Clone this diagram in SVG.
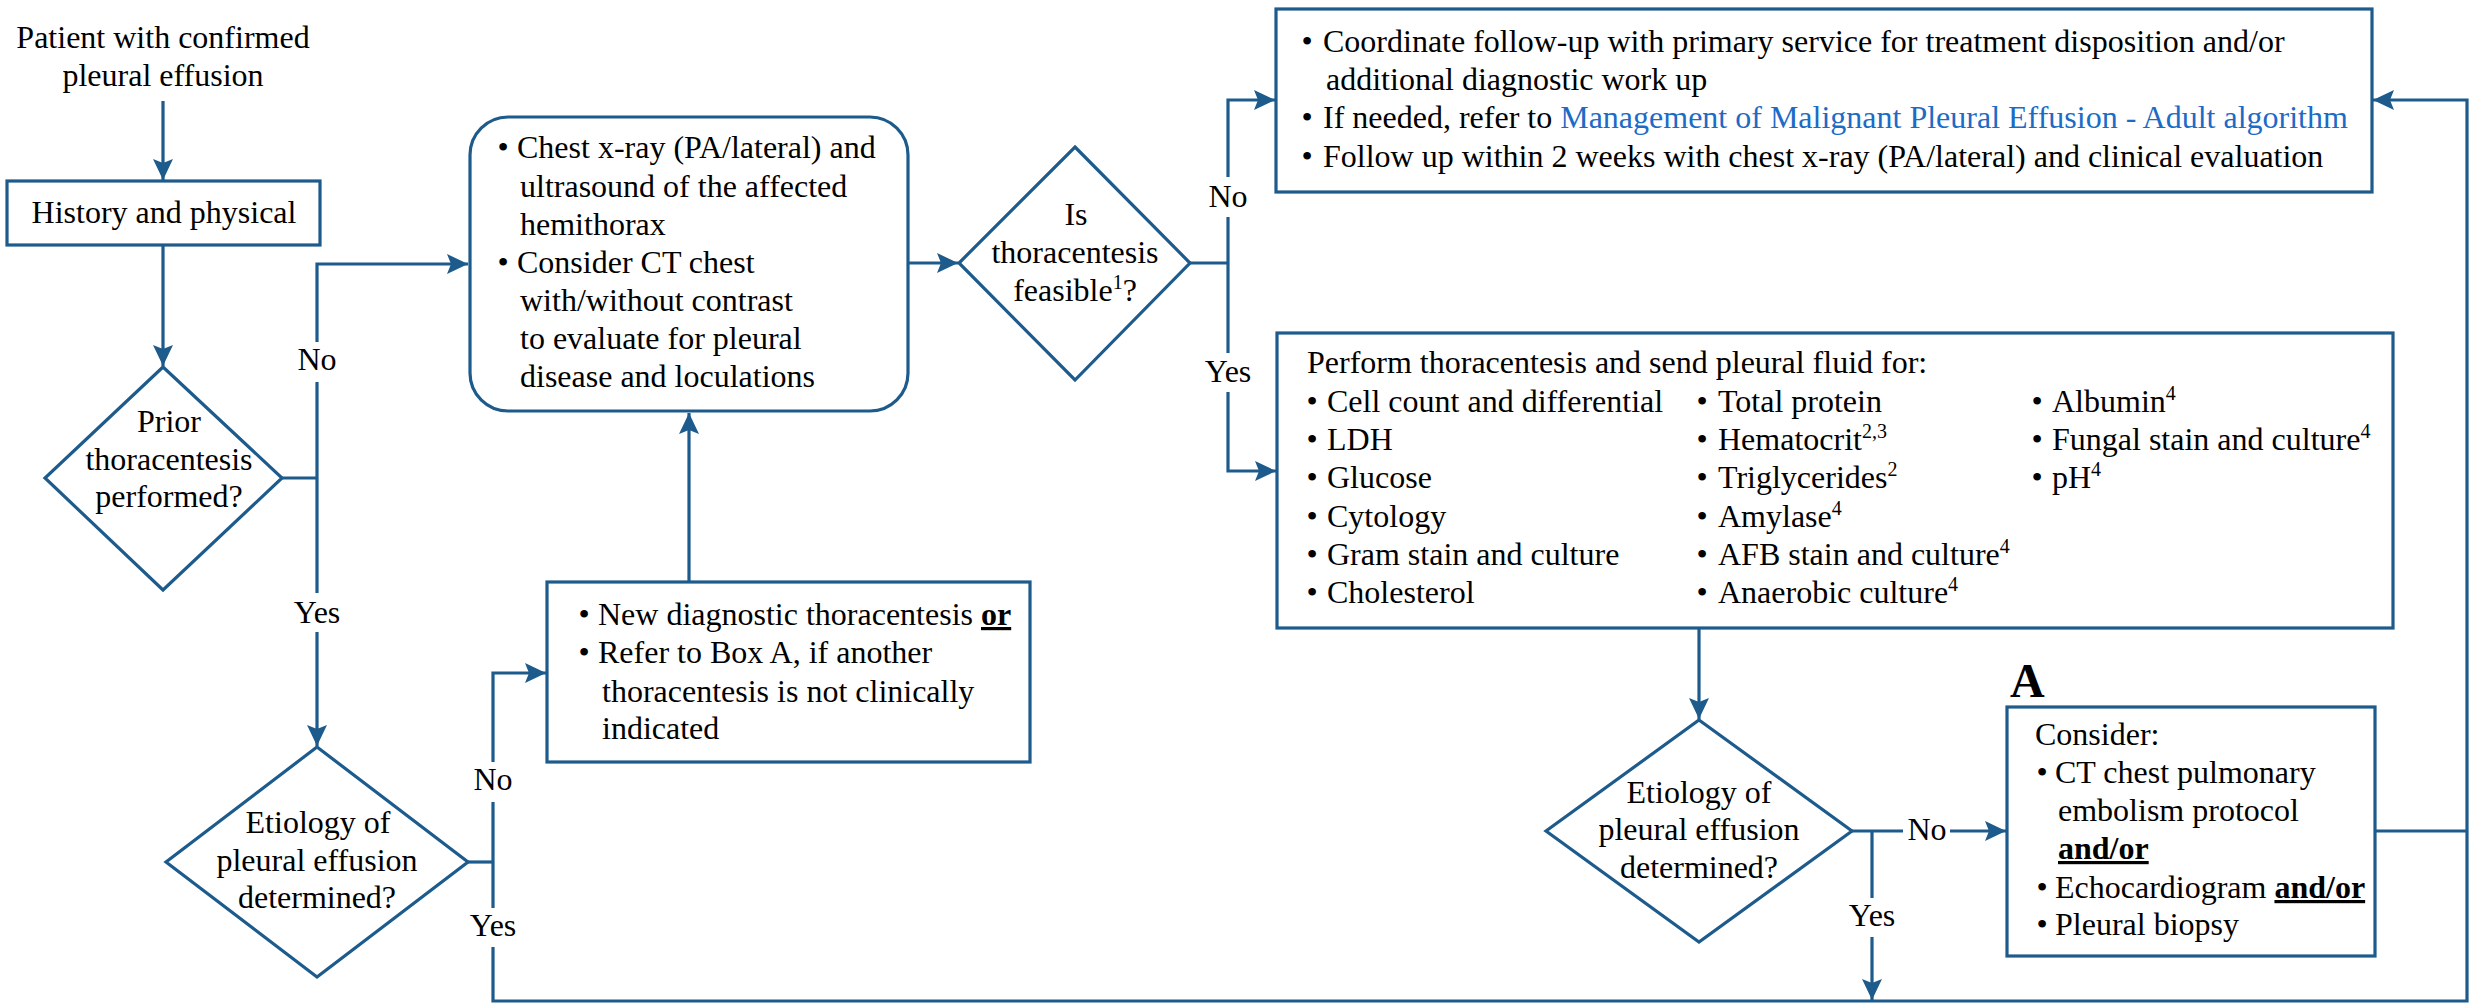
<svg xmlns="http://www.w3.org/2000/svg" width="2475" height="1003" viewBox="0 0 2475 1003">
<style>
text{font-family:"Liberation Serif","Times New Roman",serif;font-size:32px;fill:#000}
.c{text-anchor:middle}
.b{text-anchor:middle}
.shape{fill:#fff;stroke:#1d5b8d;stroke-width:3.2}
.ln{fill:none;stroke:#1d5b8d;stroke-width:3.2}
.arr{marker-end:url(#ah)}
.link{fill:#1c6bc6}
.sup{font-size:20px}
.bu{font-weight:bold;text-decoration:underline}
</style>
<defs>
<marker id="ah" markerUnits="userSpaceOnUse" markerWidth="22" markerHeight="22" viewBox="0 0 22 22" refX="21" refY="11" orient="auto">
<path d="M0,1 L21,11 L0,21 L4,11 z" fill="#1d5b8d"/>
</marker>
</defs>
<rect width="2475" height="1003" fill="#fff"/>

<g id="connectors">
<path class="ln arr" d="M163,101 V180"/>
<path class="ln arr" d="M163,245 V366"/>
<path class="ln" d="M282,478 H317"/>
<path class="ln arr" d="M317,342 V264 H468"/>
<path class="ln" d="M317,382 V593"/>
<path class="ln arr" d="M317,632 V746"/>
<path class="ln" d="M468,862 H493"/>
<path class="ln arr" d="M493,762 V673 H546"/>
<path class="ln" d="M493,802 V908"/>
<path class="ln arr" d="M493,947 V1001 H2467 V100 H2373"/>
<path class="ln arr" d="M689,582 V413"/>
<path class="ln arr" d="M908,263 H958"/>
<path class="ln" d="M1190,263 H1228"/>
<path class="ln arr" d="M1228,177 V100 H1275"/>
<path class="ln" d="M1228,217 V353"/>
<path class="ln arr" d="M1228,392 V471 H1276"/>
<path class="ln arr" d="M1699,628 V719"/>
<path class="ln" d="M1852,831 H1903"/>
<path class="ln arr" d="M1950,831 H2006"/>
<path class="ln" d="M1872,831 V898"/>
<path class="ln arr" d="M1872,937 V1000"/>
<path class="ln" d="M2375,831 H2467"/>
<text class="c" x="317" y="370">No</text>
<text class="c" x="317" y="623">Yes</text>
<text class="c" x="1228" y="207">No</text>
<text class="c" x="1228" y="382">Yes</text>
<text class="c" x="493" y="790">No</text>
<text class="c" x="493" y="936">Yes</text>
<text class="c" x="1927" y="840">No</text>
<text class="c" x="1872" y="926">Yes</text>
</g>

<g id="start">
<text class="c" x="163" y="48">Patient with confirmed</text>
<text class="c" x="163" y="86">pleural effusion</text>
</g>

<g id="history">
<rect class="shape" x="7" y="181" width="313" height="64"/>
<text class="c" x="164" y="223">History and physical</text>
</g>

<g id="prior-thoracentesis">
<path class="shape" d="M163,367 L282,478 L163,590 L45,478 Z"/>
<text class="c" x="169" y="432">Prior</text>
<text class="c" x="169" y="470">thoracentesis</text>
<text class="c" x="169" y="507">performed?</text>
</g>

<g id="etiology-left">
<path class="shape" d="M317,747 L468,862 L317,977 L166,862 Z"/>
<text class="c" x="318" y="833">Etiology of</text>
<text class="c" x="317" y="871">pleural effusion</text>
<text class="c" x="317" y="908">determined?</text>
</g>

<g id="imaging">
<rect class="shape" x="470" y="117" width="438" height="294" rx="38" ry="38"/>
<text class="b" x="503" y="158">•</text>
<text x="517" y="158">Chest x-ray (PA/lateral) and</text>
<text x="520" y="197">ultrasound of the affected</text>
<text x="520" y="235">hemithorax</text>
<text class="b" x="503" y="273">•</text>
<text x="517" y="273">Consider CT chest</text>
<text x="520" y="311">with/without contrast</text>
<text x="520" y="349">to evaluate for pleural</text>
<text x="520" y="387">disease and loculations</text>
</g>

<g id="new-thoracentesis">
<rect class="shape" x="547" y="582" width="483" height="180"/>
<text class="b" x="584" y="625">•</text>
<text x="598" y="625">New diagnostic thoracentesis <tspan class="bu">or</tspan></text>
<text class="b" x="584" y="663">•</text>
<text x="598" y="663">Refer to Box A, if another</text>
<text x="602" y="702">thoracentesis is not clinically</text>
<text x="602" y="739">indicated</text>
</g>

<g id="feasible">
<path class="shape" d="M1075,147 L1190,263 L1075,380 L959,263 Z"/>
<text class="c" x="1076" y="225">Is</text>
<text class="c" x="1075" y="263">thoracentesis</text>
<text class="c" x="1075" y="301">feasible<tspan class="sup" dy="-12">1</tspan><tspan dy="12">?</tspan></text>
</g>

<g id="follow-up">
<rect class="shape" x="1276" y="9" width="1096" height="183"/>
<text class="b" x="1307" y="52">•</text>
<text x="1323" y="52">Coordinate follow-up with primary service for treatment disposition and/or</text>
<text x="1326" y="90">additional diagnostic work up</text>
<text class="b" x="1307" y="128">•</text>
<text x="1323" y="128">If needed, refer to <tspan class="link">Management of Malignant Pleural Effusion - Adult algorithm</tspan></text>
<text class="b" x="1307" y="167">•</text>
<text x="1323" y="167">Follow up within 2 weeks with chest x-ray (PA/lateral) and clinical evaluation</text>
</g>

<g id="perform-thoracentesis">
<rect class="shape" x="1277" y="333" width="1116" height="295"/>
<text x="1307" y="373">Perform thoracentesis and send pleural fluid for:</text>
<g>
<text class="b" x="1312" y="412">•</text><text x="1327" y="412">Cell count and differential</text>
<text class="b" x="1312" y="450">•</text><text x="1327" y="450">LDH</text>
<text class="b" x="1312" y="488">•</text><text x="1327" y="488">Glucose</text>
<text class="b" x="1312" y="527">•</text><text x="1327" y="527">Cytology</text>
<text class="b" x="1312" y="565">•</text><text x="1327" y="565">Gram stain and culture</text>
<text class="b" x="1312" y="603">•</text><text x="1327" y="603">Cholesterol</text>
</g>
<g>
<text class="b" x="1702" y="412">•</text><text x="1718" y="412">Total protein</text>
<text class="b" x="1702" y="450">•</text><text x="1718" y="450">Hematocrit<tspan class="sup" dy="-12">2,3</tspan></text>
<text class="b" x="1702" y="488">•</text><text x="1718" y="488">Triglycerides<tspan class="sup" dy="-12">2</tspan></text>
<text class="b" x="1702" y="527">•</text><text x="1718" y="527">Amylase<tspan class="sup" dy="-12">4</tspan></text>
<text class="b" x="1702" y="565">•</text><text x="1718" y="565">AFB stain and culture<tspan class="sup" dy="-12">4</tspan></text>
<text class="b" x="1702" y="603">•</text><text x="1718" y="603">Anaerobic culture<tspan class="sup" dy="-12">4</tspan></text>
</g>
<g>
<text class="b" x="2037" y="412">•</text><text x="2052" y="412">Albumin<tspan class="sup" dy="-12">4</tspan></text>
<text class="b" x="2037" y="450">•</text><text x="2052" y="450">Fungal stain and culture<tspan class="sup" dy="-12">4</tspan></text>
<text class="b" x="2037" y="488">•</text><text x="2052" y="488">pH<tspan class="sup" dy="-12">4</tspan></text>
</g>
</g>

<g id="etiology-right">
<path class="shape" d="M1699,720 L1852,831 L1699,942 L1546,831 Z"/>
<text class="c" x="1699" y="803">Etiology of</text>
<text class="c" x="1699" y="840">pleural effusion</text>
<text class="c" x="1699" y="878">determined?</text>
</g>

<g id="box-a">
<text x="2010" y="697" style="font-weight:bold;font-size:48px">A</text>
<rect class="shape" x="2007" y="707" width="368" height="249"/>
<text x="2035" y="745">Consider:</text>
<text class="b" x="2042" y="783">•</text>
<text x="2055" y="783">CT chest pulmonary</text>
<text x="2058" y="821">embolism protocol</text>
<text x="2058" y="859" class="bu">and/or</text>
<text class="b" x="2042" y="898">•</text>
<text x="2055" y="898">Echocardiogram <tspan class="bu">and/or</tspan></text>
<text class="b" x="2042" y="935">•</text>
<text x="2055" y="935">Pleural biopsy</text>
</g>
</svg>
